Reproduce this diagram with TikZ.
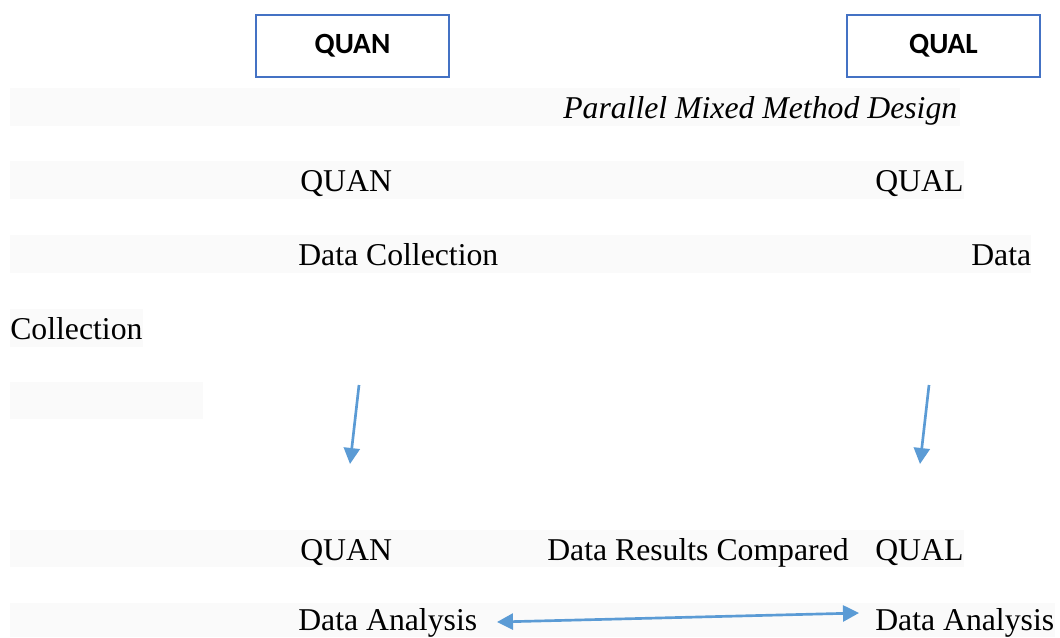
\documentclass[tikz,border=0pt]{standalone}
\usepackage{fontspec}
\setmainfont{Liberation Serif}
\newfontfamily\boxfont{Carlito}
\usetikzlibrary{arrows.meta}
\definecolor{bandgray}{HTML}{FAFAFA}
\definecolor{boxblue}{HTML}{4472C4}
\definecolor{arrowblue}{HTML}{5B9BD5}
\tikzset{
    band/.style={fill=bandgray, draw=none},
    txt/.style={anchor=base west, inner sep=0pt, font=\fontsize{23.8pt}{28pt}\selectfont},
    headbox/.style={draw=boxblue, line width=1.8pt, minimum width=144.75pt, minimum height=46.5pt,
        inner sep=0pt, font=\boxfont\bfseries\fontsize{22pt}{26pt}\selectfont},
    flow/.style={draw=arrowblue, line width=2pt, -{Triangle[length=12pt,width=12pt]}}
}
\begin{document}
\begin{tikzpicture}[x=0.75pt, y=-0.75pt]
    \useasboundingbox (0,0) rectangle (1060,637);

    % shaded lines
    \fill[band] (10,88) rectangle (960,126);
    \fill[band] (10,161) rectangle (964,199);
    \fill[band] (10,235) rectangle (1031,273);
    \fill[band] (10,309) rectangle (143,347);
    \fill[band] (10,382) rectangle (203,419);
    \fill[band] (10,530) rectangle (964,567);
    \fill[band] (10,603) rectangle (1055,637);

    \node[headbox] (quanBox) at (352.5,46) {QUAN};
    \node[headbox] (qualBox) at (943.5,46) {QUAL};

    \node[txt] (title) at (563,118) {\itshape Parallel Mixed Method Design};

    \node[txt] (quanTop) at (300,191) {QUAN};
    \node[txt] (qualTop) at (875,191) {QUAL};
    \node[txt] (quanColl) at (298,265) {Data Collection};
    \node[txt] (qualColl) at (971,265) {Data};
    \node[txt] (qualColl2) at (10,339) {Collection};

    \node[txt] (quanBot) at (300,560) {QUAN};
    \node[txt] (compare) at (547,560) {Data Results Compared};
    \node[txt] (qualBot) at (875,560) {QUAL};
    \node[txt] (quanAn) at (298,630) {Data Analysis};
    \node[txt] (qualAn) at (875,630) {Data Analysis};

    \coordinate (quanFrom) at (359,385);
    \coordinate (quanTo) at (350,464);
    \coordinate (qualFrom) at (929,385);
    \coordinate (qualTo) at (920,464);
    \coordinate (anLeft) at (497,622);
    \coordinate (anRight) at (859,613);

    \draw[flow] (quanFrom) -- (quanTo);
    \draw[flow] (qualFrom) -- (qualTo);
    \draw[flow, {Triangle[length=12pt,width=12pt]}-{Triangle[length=12pt,width=12pt]}] (anLeft) -- (anRight);
\end{tikzpicture}
\end{document}
